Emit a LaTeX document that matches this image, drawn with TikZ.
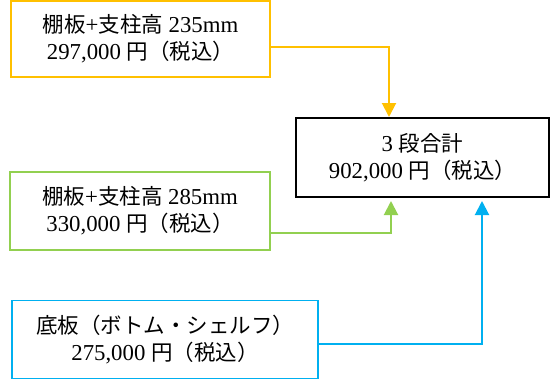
\documentclass[tikz,border=0pt]{standalone}
\usepackage{fontspec}
\setmainfont[Scale=1.06]{Liberation Serif}
\newfontfamily\jpfont{Noto Sans CJK JP}
\newcommand{\J}[1]{{\jpfont #1}}
\usetikzlibrary{arrows.meta}
\definecolor{cyel}{HTML}{FFC000}
\definecolor{cgrn}{HTML}{92D050}
\definecolor{cblu}{HTML}{00B0F0}
\tikzset{
  box/.style={draw, line width=1.5pt, align=center, inner sep=0pt,
    font=\fontsize{21.5}{27}\selectfont},
  conn/.style={line width=2pt, -{Triangle[width=14pt,length=14pt]}},
}
\begin{document}
\begin{tikzpicture}[x=1pt,y=-1pt]
\useasboundingbox (0,0) rectangle (557,383);
\node[box, draw=cyel, minimum width=259pt, minimum height=76pt] (Y) at (140.5,39)
  {\J{棚板}+\J{支柱高} 235mm\\297,000 \J{円（税込）}};
\node[box, draw=black, line width=2pt, minimum width=253pt, minimum height=79pt] (T) at (422.5,157.5)
  {3 \J{段合計}\\902,000 \J{円（税込）}};
\node[box, draw=cgrn, minimum width=260pt, minimum height=78pt] (G) at (140,211)
  {\J{棚板}+\J{支柱高} 285mm\\330,000 \J{円（税込）}};
\node[box, draw=cblu, minimum width=306pt, minimum height=78pt] (B) at (165,339.5)
  {\J{底板（ボトム・シェルフ）}\\275,000 \J{円（税込）}};
\coordinate (ya) at ([yshift=-8pt]Y.east);
\coordinate (ga) at ([yshift=-22pt]G.east);
\coordinate (ba) at ([yshift=-4.5pt]B.east);
\draw[conn, cyel] (ya) -| ([xshift=94pt]T.north west);
\draw[conn, cgrn] (ga) -| ([xshift=96pt,yshift=-3pt]T.south west);
\draw[conn, cblu] (ba) -| ([xshift=187pt,yshift=-3pt]T.south west);
\end{tikzpicture}
\end{document}
